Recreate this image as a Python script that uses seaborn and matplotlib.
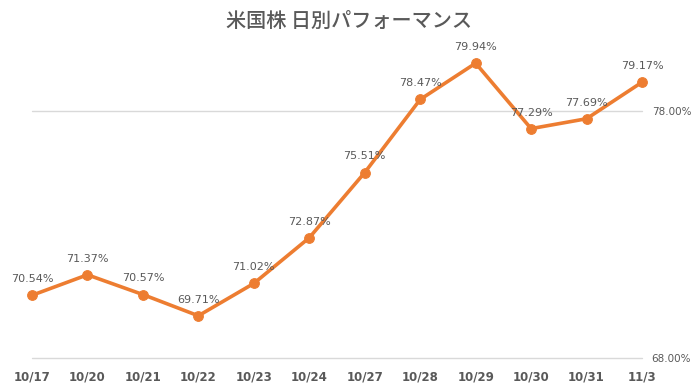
import matplotlib
matplotlib.use('Agg')
import matplotlib.pyplot as plt
import pandas as pd
import seaborn as sns

dates = ['10/17', '10/20', '10/21', '10/22', '10/23', '10/24',
         '10/27', '10/28', '10/29', '10/30', '10/31', '11/3']
perf = [70.54, 71.37, 70.57, 69.71, 71.02, 72.87,
        75.51, 78.47, 79.94, 77.29, 77.69, 79.17]
yticks = [68, 78]

sns.set_style('white')
plt.rcParams['font.family'] = ['Noto Sans CJK JP', 'DejaVu Sans']

df = pd.DataFrame({'pos': range(len(dates)), 'date': dates, 'perf': perf})

fig = plt.figure(figsize=(6.98, 3.92), dpi=100)
ax = fig.add_axes([0.0458, 0.0867, 0.8740, 0.8189])

gray = '#595959'
orange = '#ED7D31'

for t in yticks:
    ax.axhline(t, color='#D9D9D9', lw=1, zorder=0, clip_on=False)

sns.lineplot(data=df, x='pos', y='perf', ax=ax, color=orange, lw=2.6,
             marker='o', markersize=7, markeredgecolor=orange, zorder=3,
             clip_on=False)

for _, r in df.iterrows():
    ax.annotate(f"{r['perf']:.2f}%", (r['pos'], r['perf']),
                xytext=(0, 8), textcoords='offset points',
                ha='center', va='bottom', fontsize=8, color=gray,
                family='DejaVu Sans')

ax.set_xlim(0, len(dates) - 1)
ax.set_ylim(68, 81)
ax.set_xticks(df['pos'])
ax.set_xticklabels(dates, fontsize=8.5, fontweight='bold', color=gray,
                   family='DejaVu Sans')
ax.yaxis.tick_right()
ax.set_yticks(yticks)
ax.set_yticklabels([f'{t:.2f}%' for t in yticks], fontsize=7.5, color=gray,
                   family='DejaVu Sans')
ax.tick_params(axis='both', length=0)
ax.tick_params(axis='y', pad=7)
ax.tick_params(axis='x', pad=9)
ax.set_xlabel('')
ax.set_ylabel('')
sns.despine(ax=ax, left=True, bottom=True, right=True, top=True)

fig.text(0.5, 0.945, '米国株 日別パフォーマンス', ha='center', va='center',
         fontsize=14.5, fontweight='medium', color=gray)

fig.savefig('out.png', dpi=100)
